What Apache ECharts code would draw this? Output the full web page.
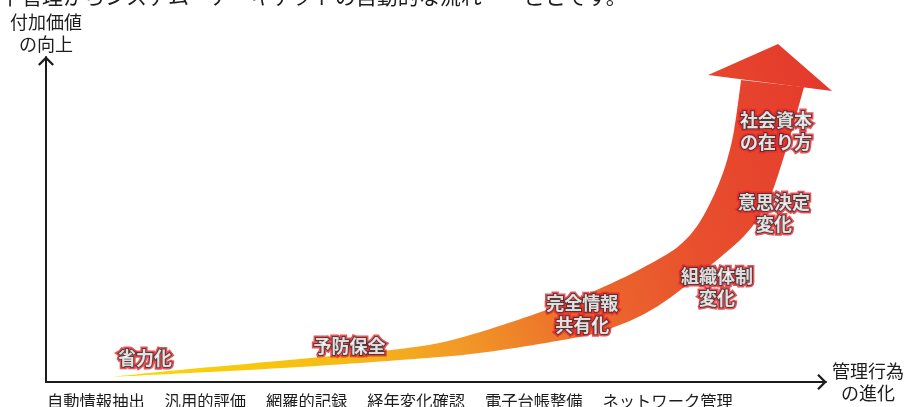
<!DOCTYPE html>
<html>
<head>
<meta charset="utf-8">
<script src="https://cdn.jsdelivr.net/npm/echarts@6/dist/echarts.min.js"></script>
<style>
  html, body { margin: 0; padding: 0; background: #fff; }
  #chart { width: 907px; height: 407px; }
</style>
</head>
<body>
<div id="chart"></div>
<script>
const FONT = '"Noto Sans CJK JP", "Noto Sans", sans-serif';

// Texts
const headline = '下管理からシステム・アーキテクトの自動的な流れ　　ことです。';
const yAxisTitle = '付加価値\nの向上';
const xAxisTitle = '管理行為\nの進化';
const stageNames = ['自動情報抽出', '汎用的評価', '網羅的記録', '経年変化確認', '電子台帳整備', 'ネットワーク管理'];

// Growth arrow: inner edge from the tail up to the head base
const edgeUpper = [
  [8.19, 1.54], [18.44, 4.00], [32.52, 7.08], [45.33, 10.15], [53.01, 13.54],
  [64.15, 22.15], [72.60, 30.46], [79.00, 38.46], [81.56, 42.77], [83.48, 48.00],
  [85.02, 54.46], [86.30, 61.23], [87.32, 68.31], [88.22, 77.54], [89.12, 92.92]
];
// outer edge from the head base back down to the tail
const edgeLower = [
  [97.18, 90.77], [95.65, 77.54], [93.98, 64.62], [92.83, 56.92], [91.42, 50.77],
  [89.50, 44.92], [86.94, 39.38], [83.35, 32.31], [80.15, 26.15], [76.70, 20.92],
  [72.86, 16.92], [68.37, 13.85], [55.57, 8.92], [45.33, 6.77], [32.52, 4.62],
  [18.44, 2.77], [8.19, 1.54]
];
// arrow head: left corner, tip, right corner
const arrowHead = [[84.89, 94.46], [93.85, 104.0], [100.77, 89.54]];

// Stage notes placed along the arrow
const noteNames = ['省力化', '予防保全', '完全情報\n共有化', '組織体制\n変化', '意思決定\n変化', '社会資本\nの在り方'];
const noteX = [12.68, 38.92, 68.76, 86.04, 93.34, 93.60];
const noteY = [7.20, 11.08, 20.92, 29.23, 52.00, 77.23];

const notes = noteNames.map((n, i) => ({ name: n, value: [noteX[i], noteY[i]] }));

// Open chevron used as the axis arrow (points up, rotated by the axis)
const chevron = 'path://M0,8 L8,0 L16,8 L14.4,9.6 L8,3.2 L1.6,9.6 Z';

const arrowStops = [
  { offset: 0, color: '#f9dc00' },
  { offset: 0.30, color: '#f6b818' },
  { offset: 0.43, color: '#f29a26' },
  { offset: 0.59, color: '#ec6b2c' },
  { offset: 0.77, color: '#e84f2d' },
  { offset: 0.90, color: '#e6432d' },
  { offset: 1, color: '#e4392c' }
];

// Catmull-Rom through the points, written as cubic Bezier segments
function bezierEdge(pts) {
  let d = '';
  for (let i = 0; i < pts.length - 1; i++) {
    const p0 = pts[i - 1] || pts[i];
    const p1 = pts[i];
    const p2 = pts[i + 1];
    const p3 = pts[i + 2] || pts[i + 1];
    const c1x = p1[0] + (p2[0] - p0[0]) / 6, c1y = p1[1] + (p2[1] - p0[1]) / 6;
    const c2x = p2[0] - (p3[0] - p1[0]) / 6, c2y = p2[1] - (p3[1] - p1[1]) / 6;
    d += ' C' + c1x + ',' + c1y + ' ' + c2x + ',' + c2y + ' ' + p2[0] + ',' + p2[1];
  }
  return d;
}

function renderArrow(params, api) {
  const up = edgeUpper.map(p => api.coord(p));
  const low = edgeLower.map(p => api.coord(p));
  const head = arrowHead.map(p => api.coord(p));
  const d = 'M' + up[0][0] + ',' + up[0][1] + bezierEdge(up) +
            ' L' + low[0][0] + ',' + low[0][1] + bezierEdge(low) + ' Z';
  const start = up[0], end = head[2];
  const fill = new echarts.graphic.LinearGradient(start[0], start[1], end[0], end[1], arrowStops, true);
  return {
    type: 'group',
    children: [
      { type: 'path', shape: { pathData: d }, style: { fill: fill } },
      { type: 'polygon', shape: { points: head }, style: { fill: fill } }
    ]
  };
}

const axisLineStyle = { color: '#1c1c1c', width: 2 };
const nameStyle = { fontFamily: FONT, fontSize: 18, lineHeight: 22, color: '#1c1c1c', align: 'center' };
const noteLabel = { show: true, position: 'inside', formatter: '{b}', color: '#fff',
  fontFamily: FONT, fontSize: 18, fontWeight: 'bold', lineHeight: 22 };

const chart = echarts.init(document.getElementById('chart'));
chart.setOption({
  backgroundColor: '#fff',
  animation: false,
  title: [
    { text: headline, left: 0, top: -14, padding: 0,
      textStyle: { fontFamily: FONT, fontSize: 21, fontWeight: 'normal', color: '#1c1c1c' } },
    { text: stageNames.join('　 '), left: 47, top: 391, padding: 0,
      textStyle: { fontFamily: FONT, fontSize: 16.3, lineHeight: 20, fontWeight: 'normal', color: '#1c1c1c' } }
  ],
  grid: { left: 46, top: 57, right: 80, bottom: 25 },
  xAxis: {
    type: 'value', min: 0, max: 100,
    axisLine: { show: true, symbol: ['none', chevron], symbolSize: [16, 10], symbolOffset: [0, -4], lineStyle: axisLineStyle },
    axisTick: { show: false }, axisLabel: { show: false }, splitLine: { show: false },
    name: xAxisTitle, nameLocation: 'end', nameGap: 42,
    nameTextStyle: Object.assign({}, nameStyle, { verticalAlign: 'middle' })
  },
  yAxis: {
    type: 'value', min: 0, max: 100,
    axisLine: { show: true, symbol: ['none', chevron], symbolSize: [16, 10], symbolOffset: [0, -4], lineStyle: axisLineStyle },
    axisTick: { show: false }, axisLabel: { show: false }, splitLine: { show: false },
    name: yAxisTitle, nameLocation: 'end', nameGap: 2,
    nameTextStyle: Object.assign({}, nameStyle, { verticalAlign: 'bottom' })
  },
  series: [
    { type: 'custom', renderItem: renderArrow, data: [0], silent: true, z: 2, clip: false },
    { type: 'scatter', data: notes, symbolSize: 1, itemStyle: { color: 'transparent' }, silent: true, z: 5,
      label: Object.assign({}, noteLabel, { textBorderColor: '#e8242a', textBorderWidth: 5 }) },
    { type: 'scatter', data: notes, symbolSize: 1, itemStyle: { color: 'transparent' }, silent: true, z: 6,
      label: Object.assign({}, noteLabel, { textBorderColor: '#333333', textBorderWidth: 2 }) }
  ]
});
</script>
</body>
</html>
